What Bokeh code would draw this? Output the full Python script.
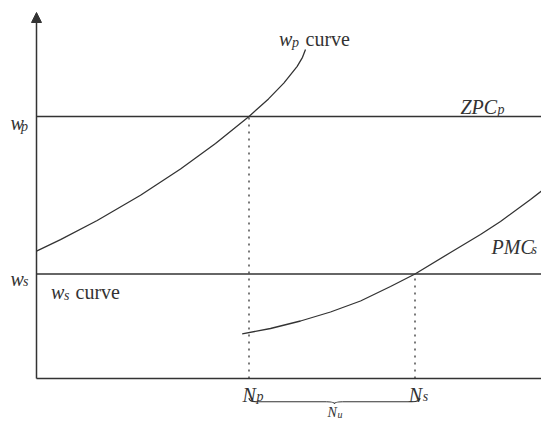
from bokeh.plotting import figure
from bokeh.models import Range1d, Arrow, NormalHead, ColumnDataSource
from bokeh.core.properties import value
from bokeh.embed import file_html
from bokeh.resources import INLINE

# ---------------- data ----------------
wp = 5.24      # primary-sector wage
ws = 2.09      # secondary-sector wage
Np = 4.25      # primary-sector employment
Ns = 7.57      # secondary-sector employment

# w_p curve
wp_curve_x = [0.0, 0.48, 1.214, 2.08, 2.88, 3.58, 4.25, 4.64, 4.946, 5.214, 5.32, 5.38]
wp_curve_y = [2.546, 2.776, 3.16, 3.666, 4.19, 4.7, 5.24, 5.592, 5.908, 6.244, 6.424, 6.58]

# PMC_s curve
pmc_x = [4.114, 4.68, 5.28, 5.88, 6.48, 7.08, 7.57, 8.28, 8.88, 9.28, 9.88, 10.414]
pmc_y = [0.894, 1.0, 1.15, 1.33, 1.55, 1.84, 2.09, 2.52, 2.88, 3.14, 3.58, 3.994]

# labels
lab_wp = ("w", "p")
lab_ws = ("w", "s")
lab_zpc = ("ZPC", "p")
lab_pmc = ("PMC", "s")
lab_np = ("N", "p")
lab_ns = ("N", "s")
lab_nu = ("N", "u")
word_curve = "curve"

# ---------------- layout / style ----------------
INK = "#333333"
FONT = value("Liberation Serif")
X_END = 10.8
Y_TOP = 7.32

p = figure(width=541, height=419,
           x_range=Range1d(-0.72, 10.1), y_range=Range1d(-0.82, 7.56),
           output_backend="svg", toolbar_location=None, min_border=0,
           x_axis_location=None, y_axis_location=None)
p.grid.visible = False
p.outline_line_color = None
p.background_fill_color = "white"
p.border_fill_color = "white"

# axes
p.segment(x0=[0], y0=[0], x1=[X_END], y1=[0], line_color=INK, line_width=1.5)
p.add_layout(Arrow(end=NormalHead(size=10, fill_color=INK, line_color=INK, line_width=1),
                   x_start=0, y_start=0, x_end=0, y_end=Y_TOP,
                   line_color=INK, line_width=1.5))

# horizontal wage lines
p.segment(x0=[0, 0], y0=[wp, ws], x1=[X_END, X_END], y1=[wp, ws],
          line_color=INK, line_width=1.4)

# curves
p.line(wp_curve_x, wp_curve_y, line_color=INK, line_width=1.3)
p.line(pmc_x, pmc_y, line_color=INK, line_width=1.3)

# dotted drop lines
p.segment(x0=[Np, Ns], y0=[0, 0], x1=[Np, Ns], y1=[wp, ws],
          line_color=INK, line_width=1.3, line_dash="2 5")

# brace under Np..Ns
b_top, b_flat, b_tip, q = -0.39, -0.465, -0.505, 0.16
left, right = Np, Ns + 0.1
mid = (left + right) / 2
p.quadratic(x0=[left, mid - q, mid + q, right],
            y0=[b_top, b_flat, b_flat, b_top],
            x1=[left + q, mid, mid, right - q],
            y1=[b_flat, b_tip, b_tip, b_flat],
            cx=[left, mid, mid, right],
            cy=[b_flat, b_flat, b_flat, b_flat],
            line_color=INK, line_width=1.2)
p.segment(x0=[left + q, mid + q], y0=[b_flat, b_flat],
          x1=[mid - q, right - q], y1=[b_flat, b_flat],
          line_color=INK, line_width=1.2)

# ---------------- texts ----------------
# (label, anchor x, anchor y, main dx, main dy, sub dx, sub dy)
big = [
    (lab_wp, 0, wp, -26, 6.5, -15.5, 10),
    (lab_ws, 0, ws, -26, 5.0, -13.5, 7.5),
    (lab_ws, 0, ws, 14.5, 18.4, 27.5, 21),
    (lab_wp, wp_curve_x[-1], wp_curve_y[-1], -26.5, -10.3, -13.5, -7.3),
    (lab_zpc, 8.48, wp, 0, -10, 37, -7),
    (lab_pmc, 9.18, pmc_y[-1], -4, 68.4, 36, 71),
    (lab_np, Np, 0, -6.5, 16, 7.5, 18),
    (lab_ns, Ns, 0, -6.3, 16, 7.7, 18),
]
small = [
    (lab_nu, mid, 0, -7, 34, 3, 35.5),
]


def add_labels(items, size_main, size_sub):
    for k, size in ((0, size_main), (1, size_sub)):
        src = ColumnDataSource(dict(
            x=[a[1] for a in items], y=[a[2] for a in items],
            text=[a[0][k] for a in items],
            dx=[a[3 + 2 * k] for a in items], dy=[a[4 + 2 * k] for a in items]))
        p.text(x="x", y="y", text="text", x_offset="dx", y_offset="dy", source=src,
               text_font=FONT, text_font_style="italic", text_font_size=size,
               text_color=INK, text_align="left", text_baseline="alphabetic")


add_labels(big, "20px", "14px")
add_labels(small, "14px", "10px")

# the word "curve" (upright)
p.text(x=[0, wp_curve_x[-1]], y=[ws, wp_curve_y[-1]], text=[word_curve, word_curve],
       x_offset=[39, 0], y_offset=[18.4, -10.3],
       text_font=FONT, text_font_style="normal", text_font_size="20px",
       text_color=INK, text_align="left", text_baseline="alphabetic")

open("out.html", "w").write(file_html(p, INLINE))
